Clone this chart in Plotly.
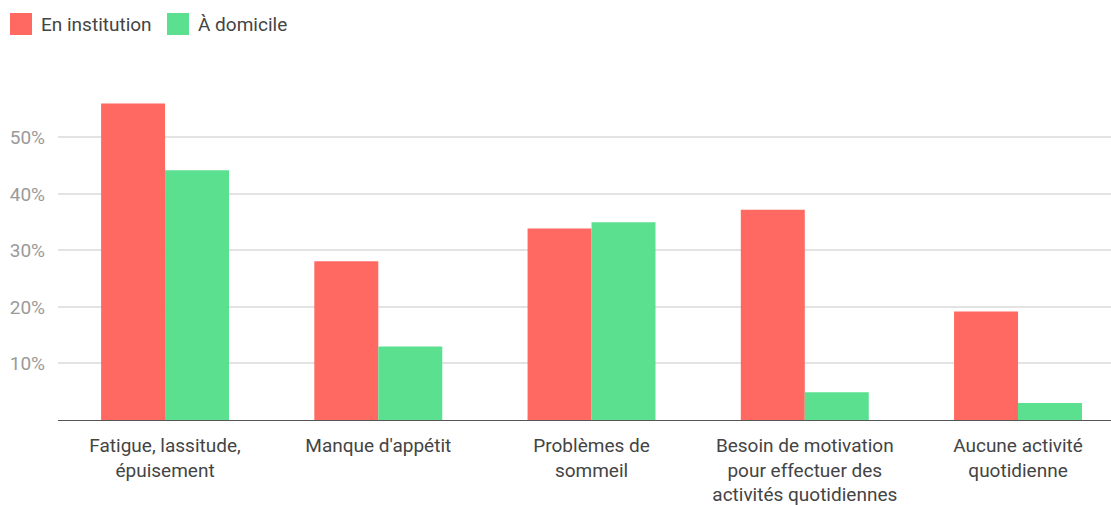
import plotly.graph_objects as go

categories = [
    "Fatigue, lassitude,<br>épuisement",
    "Manque d'appétit",
    "Problèmes de<br>sommeil",
    "Besoin de motivation<br>pour effectuer des<br>activités quotidiennes",
    "Aucune activité<br>quotidienne",
]
institution = [0.560, 0.281, 0.339, 0.372, 0.192]
domicile = [0.442, 0.130, 0.350, 0.049, 0.030]
series_names = ["En institution", "À domicile"]
tick_vals = [0.1, 0.2, 0.3, 0.4, 0.5]
tick_text = ["10%", "20%", "30%", "40%", "50%"]

RED = "#FF6961"
GREEN = "#5AE08E"
W, H = 1111, 505

fig = go.Figure()
fig.add_trace(go.Bar(x=categories, y=institution, name=series_names[0],
                     marker=dict(color=RED, line=dict(width=0)), showlegend=False))
fig.add_trace(go.Bar(x=categories, y=domicile, name=series_names[1],
                     marker=dict(color=GREEN, line=dict(width=0)), showlegend=False))

# custom legend (paper pixel positions)
legend_items = [(series_names[0], RED, 10), (series_names[1], GREEN, 167)]
for name, col, x0 in legend_items:
    fig.add_shape(type="rect", xref="paper", yref="paper",
                  x0=(x0 - 58) / (W - 58), x1=(x0 + 22 - 58) / (W - 58),
                  y0=(420 - 35) / 330, y1=(420 - 13) / 330,
                  fillcolor=col, line=dict(width=0))
    fig.add_annotation(xref="paper", yref="paper",
                       x=(x0 + 29 - 58) / (W - 58), y=(420 - 24) / 330,
                       xanchor="left", yanchor="middle", showarrow=False,
                       text=name, font=dict(size=19, color="#444"))

fig.update_layout(
    width=W, height=H,
    margin=dict(l=58, r=0, t=90, b=85),
    paper_bgcolor="white", plot_bgcolor="white",
    barmode="group", bargap=0.40, bargroupgap=0,
    font=dict(family="Roboto, sans-serif", size=19, color="#444"),
    showlegend=False,
    xaxis=dict(range=[-0.502, 4.436], showgrid=False, showline=True,
               linecolor="#555", linewidth=1, ticks="", ticklabelstandoff=8,
               tickfont=dict(size=19, color="#444"), fixedrange=True),
    yaxis=dict(range=[0, 0.584], tickvals=tick_vals, ticktext=tick_text,
               showgrid=True, gridcolor="#e3e3e3", gridwidth=1.5, zeroline=False,
               showline=False, ticks="", ticklabelstandoff=12,
               tickfont=dict(size=19, color="#9a9a9a")),
)

fig.write_html("out.html")
